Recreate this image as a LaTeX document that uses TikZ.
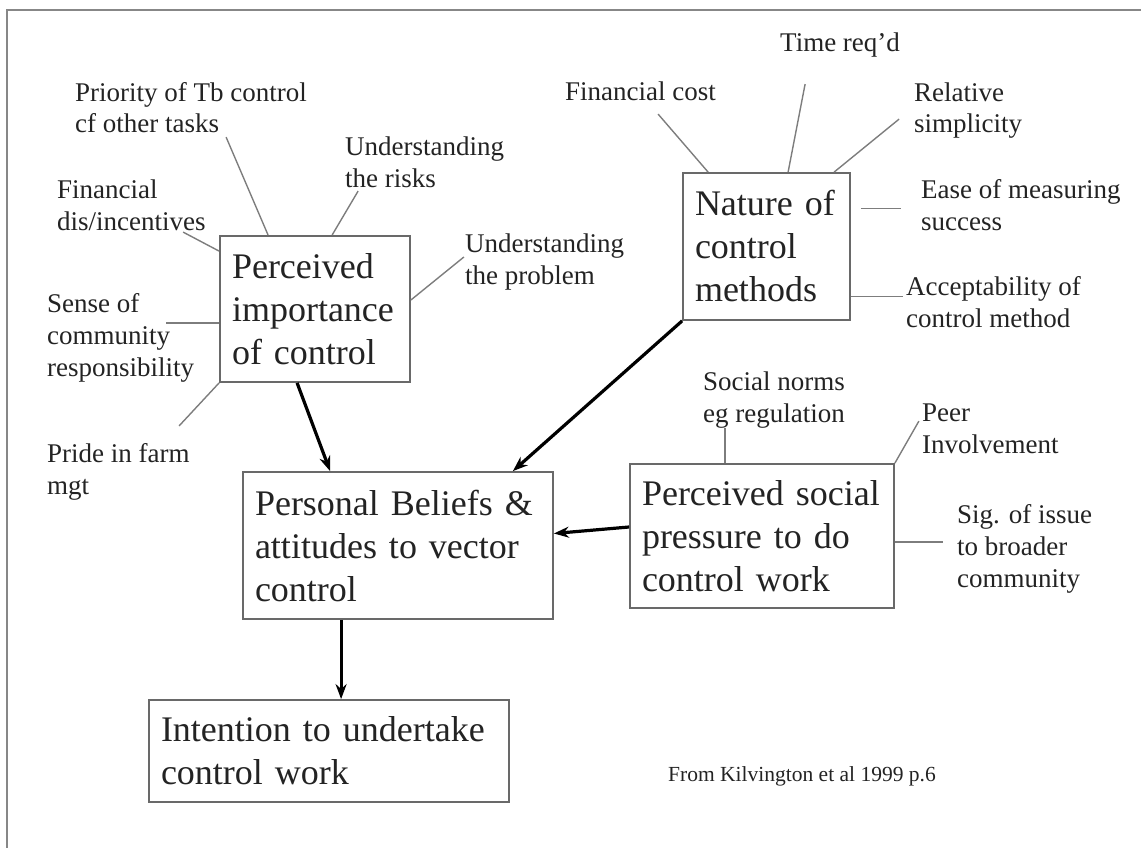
\documentclass[tikz,border=0pt]{standalone}
\usepackage{fontspec}
\setmainfont{Liberation Serif}
\usetikzlibrary{arrows.meta,positioning}
\definecolor{inkgray}{RGB}{35,35,35}
\definecolor{boxgray}{RGB}{105,105,105}
\definecolor{leadgray}{RGB}{125,125,125}
\definecolor{framegray}{RGB}{135,135,135}

\begin{document}
\begin{tikzpicture}[
    x=1pt, y=-1pt,
    >={Stealth[length=15pt,width=11pt]},
    box/.style={draw=boxgray, line width=1.8pt, fill=white, align=left, text=inkgray, inner xsep=12pt, font=\fontsize{36}{43}\selectfont},
    lbl/.style={align=left, anchor=base west, inner sep=0pt, text=inkgray, font=\fontsize{27}{32}\selectfont},
    lead/.style={draw=leadgray, line width=1.4pt},
    arrow/.style={->, line width=3.2pt, black}
]
    \useasboundingbox (0,0) rectangle (1141,848);
    \clip (0,0) rectangle (1141,848);

    % Page frame
    \draw[framegray, line width=2.5pt] (7,870) -- (7,10) -- (1160,10);

    % Main boxes
    \node[box, text width=166pt, minimum height=146pt] (pi) at (315,309) {Perceived\\importance\\of control};
    \node[box, text width=143pt, minimum height=147pt] (nat) at (766.5,246.5) {Nature of\\control\\methods};
    \node[box, text width=240pt, minimum height=144pt] (soc) at (762,536) {Perceived social\\pressure to do\\control work};
    \node[box, text width=286pt, minimum height=147pt] (pb) at (398,545.5) {Personal Beliefs \&\\attitudes to vector\\control};
    \node[box, text width=336pt, minimum height=102pt] (int) at (329,751) {Intention to undertake\\control work};

    % Factor labels (placed by the baseline of their last line)
    \node[lbl] (prio) at (75,133) {Priority of Tb control\\cf other tasks};
    \node[lbl] (risks) at (345,187) {Understanding\\the risks};
    \node[lbl] (fin) at (57,230) {Financial\\dis/incentives};
    \node[lbl] (prob) at (465,284) {Understanding\\the problem};
    \node[lbl] (sense) at (47,376) {Sense of\\community\\responsibility};
    \node[lbl] (pride) at (47,494) {Pride in farm\\mgt};
    \node[lbl] (cost) at (565,101) {Financial cost};
    \node[lbl] (time) at (780,52) {Time req’d};
    \node[lbl] (simp) at (914,133) {Relative\\simplicity};
    \node[lbl] (ease) at (921,230) {Ease of measuring\\success};
    \node[lbl] (acc) at (906,327) {Acceptability of\\control method};
    \node[lbl] (norms) at (703,422) {Social norms\\eg regulation};
    \node[lbl] (peer) at (922,453) {Peer\\Involvement};
    \node[lbl] (sig) at (957,587) {Sig. of issue\\to broader\\community};
    \node[lbl, font=\fontsize{21.5}{26}\selectfont] (cite) at (668,781) {From Kilvington et al 1999 p.6};

    % Leader lines to importance of control
    \draw[lead] ([xshift=49pt]pi.north west) -- ++(-42,-98);
    \draw[lead] ([xshift=113pt]pi.north west) -- ++(26,-44);
    \draw[lead] ([yshift=-16pt]pi.north west) -- ++(-36,-19);
    \draw[lead] ([yshift=9pt]pi.east) -- ++(53,-43);
    \draw[lead] ([yshift=-14pt]pi.west) -- ++(-53,0);
    \draw[lead] (pi.south west) -- ++(-40,43);

    % Leader lines to nature of control methods
    \draw[lead] ([xshift=26pt]nat.north west) -- ++(-50,-58);
    \draw[lead] ([xshift=106pt]nat.north west) -- ++(17,-88);
    \draw[lead] ([xshift=152pt]nat.north west) -- ++(65,-53);
    \draw[lead] ([shift={(10pt,38pt)}]nat.east) -- ++(40,0);
    \draw[lead] ([yshift=-50pt]nat.east) -- ++(52,0);

    % Leader lines to social pressure
    \draw[lead] ([xshift=96pt]soc.north west) -- ++(0,-35);
    \draw[lead] (soc.north east) -- ++(24,-42);
    \draw[lead] ([yshift=-6pt]soc.east) -- ++(48,0);

    % Causal arrows
    \draw[arrow] ([xshift=78pt]pi.south west) -- ([xshift=88pt]pb.north west);
    \draw[arrow] (nat.south west) -- ([xshift=-41pt]pb.north east);
    \draw[arrow] ([yshift=9pt]soc.west) -- ([yshift=12pt]pb.east);
    \draw[arrow] ([xshift=99pt]pb.south west) -- ([xshift=193pt]int.north west);

\end{tikzpicture}
\end{document}
